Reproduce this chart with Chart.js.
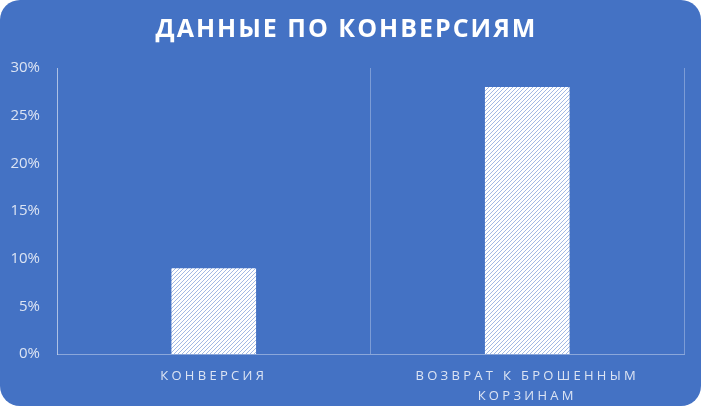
<!DOCTYPE html>
<html>
<head>
<meta charset="utf-8">
<script src="https://cdn.jsdelivr.net/npm/chart.js@4"></script>
<style>
  html, body { margin: 0; padding: 0; background: #ffffff; }
  #wrap {
    width: 701px; height: 406px;
    background: #4472C4;
    border-radius: 20px;
    overflow: hidden;
  }
</style>
</head>
<body>
<div id="wrap"><canvas id="chart" width="701" height="406"></canvas></div>
<script>
const categories = ['КОНВЕРСИЯ', ['ВОЗВРАТ К БРОШЕННЫМ', 'КОРЗИНАМ']];
const conversionValues = [9, 28];
const yTicks = [0, 5, 10, 15, 20, 25, 30];

// diagonal hatch like the office "wide upward diagonal" fill, drawn pixel by pixel
function makeHatch() {
  const c = document.createElement('canvas');
  c.width = 4;
  c.height = 4;
  const g = c.getContext('2d');
  g.fillStyle = '#ffffff';
  g.fillRect(0, 0, 4, 4);
  g.fillStyle = '#a3b9e4';
  for (let y = 0; y < 4; y++) {
    for (let x = 0; x < 4; x++) {
      if ((x + y) % 4 === 3) g.fillRect(x, y, 1, 1);
    }
  }
  return g.createPattern(c, 'repeat');
}

// canvas letter spacing for the title and category labels
const spacingPlugin = {
  id: 'spacing',
  beforeDraw(chart) {
    const ctx = chart.ctx;
    const title = chart.titleBlock;
    if (title && !title._spaced) {
      const orig = title.draw.bind(title);
      title.draw = function (area) {
        ctx.save();
        ctx.letterSpacing = '2px';
        orig(area);
        ctx.restore();
      };
      title._spaced = true;
    }
    const x = chart.scales.x;
    if (x && !x._spaced) {
      const origLabels = x.drawLabels.bind(x);
      x.drawLabels = function (area) {
        ctx.save();
        ctx.letterSpacing = '3.3px';
        origLabels(area);
        ctx.restore();
      };
      x._spaced = true;
    }
  }
};

const ctx = document.getElementById('chart').getContext('2d');
new Chart(ctx, {
  type: 'bar',
  data: {
    labels: categories,
    datasets: [{
      label: 'Конверсия',
      data: conversionValues,
      backgroundColor: makeHatch(),
      borderWidth: 0,
      barPercentage: 0.27,
      categoryPercentage: 1
    }]
  },
  options: {
    responsive: false,
    animation: false,
    devicePixelRatio: 1,
    layout: { padding: { left: 9, right: 17, top: 0, bottom: 0 } },
    plugins: {
      legend: { display: false },
      tooltip: { enabled: false },
      title: {
        display: true,
        text: 'ДАННЫЕ ПО КОНВЕРСИЯМ',
        color: '#ffffff',
        font: { family: 'Open Sans', size: 25, weight: 'bold' },
        padding: { top: 15, bottom: 23 }
      }
    },
    scales: {
      x: {
        afterFit: (s) => { s.height = 52; },
        grid: {
          display: true,
          offset: true,
          color: 'rgba(255,255,255,0.3)',
          drawTicks: false
        },
        border: { display: true, color: 'rgba(255,255,255,0.38)' },
        ticks: {
          color: '#dce4f3',
          font: { family: 'Open Sans', size: 13, lineHeight: 1.5 },
          padding: 13,
          maxRotation: 0
        }
      },
      y: {
        min: 0,
        max: 30,
        afterFit: (s) => { s.width = 48; },
        afterBuildTicks: (scale) => {
          scale.ticks = yTicks.map(v => ({ value: v }));
        },
        grid: { display: false, drawTicks: false },
        border: { display: true, color: 'rgba(255,255,255,0.38)' },
        ticks: {
          color: '#dce4f3',
          font: { family: 'Open Sans', size: 15 },
          padding: 17,
          callback: v => v + '%'
        }
      }
    }
  },
  plugins: [spacingPlugin]
});
</script>
</body>
</html>
